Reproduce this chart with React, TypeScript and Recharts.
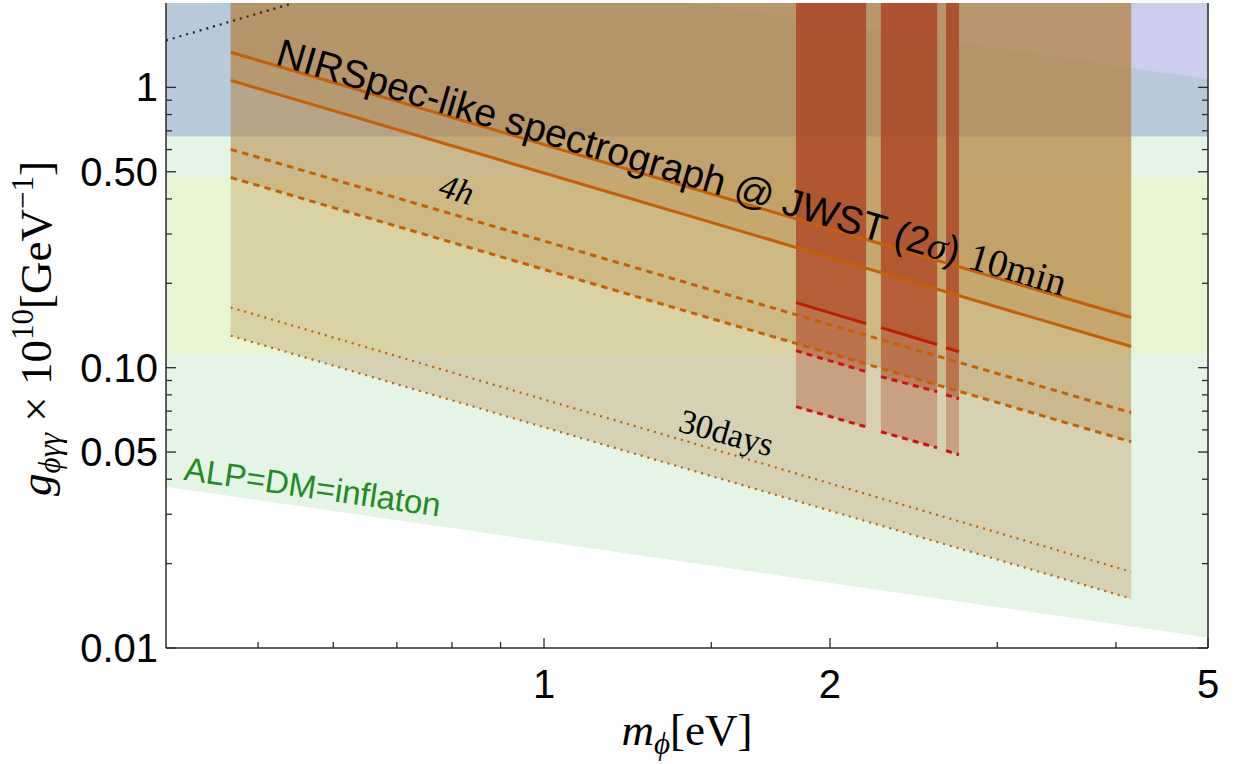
import React from 'react';
import { ComposedChart, Area, Line, XAxis, YAxis, ReferenceDot } from 'recharts';

// ---------- axes ----------
const X_DOMAIN: [number, number] = [0.4, 5];
const Y_DOMAIN: [number, number] = [0.01, 2];
const Y_TOP = 2;

const X_MAJOR = [1, 2, 5];
const X_MINOR = [0.5, 0.6, 0.7, 0.8, 0.9, 1.5, 3, 4];
const Y_MAJOR = [0.01, 0.05, 0.1, 0.5, 1];
const Y_MAJOR_LABELS = ['0.01', '0.05', '0.10', '0.50', '1'];
const Y_MINOR = [0.02, 0.03, 0.04, 0.06, 0.07, 0.08, 0.09, 0.2, 0.3, 0.4, 0.6, 0.7, 0.8, 0.9];

// ---------- background constraint regions ----------
const BG_M = [0.4, 5];
const INFLATON_LOWER = [0.0376, 0.0109];
const HB_LOWER = [0.111, 0.111];
const HB_UPPER = [0.477, 0.477];
const CAST_LOWER = [0.668, 0.668];
const VIOLET_M = [1.42, 5];
const VIOLET_LOWER = [2.0, 1.07];
const BLACK_DOT_M = [0.4, 0.545];
const BLACK_DOT_G = [1.47, 2.0];

// ---------- NIRSpec-like projections ----------
const NIR_M = [0.468, 4.15];
const G_10MIN_A = [1.334, 0.151];
const G_10MIN_B = [1.059, 0.119];
const G_4H_A = [0.601, 0.0691];
const G_4H_B = [0.477, 0.0544];
const G_30D_A = [0.164, 0.0187];
const G_30D_B = [0.13, 0.015];

// ---------- red windows ----------
const RED1_M = [1.842, 2.183];
const RED1_SOLID = [0.1706, 0.1436];
const RED1_DASH_A = [0.115, 0.0968];
const RED1_DASH_B = [0.0726, 0.0615];
const RED2_M = [2.263, 2.593];
const RED2_SOLID = [0.139, 0.121];
const RED2_DASH_A = [0.0929, 0.0821];
const RED2_DASH_B = [0.0591, 0.0518];
const RED3_M = [2.65, 2.734];
const RED3_SOLID = [0.1178, 0.114];
const RED3_DASH_A = [0.0801, 0.0775];
const RED3_DASH_B = [0.0506, 0.0489];

// ---------- styles ----------
const AX = '#2b2b2b';
const ORANGE = '#c46005';
const ORANGE_FILL = '#b4823a';
const RED_FILL = '#aa3214';
const RED_SOLID = '#be1e00';
const RED_DASH = '#c81414';
const SANS = '"Liberation Sans", Arial, Helvetica, sans-serif';
const SERIF = '"Liberation Serif", "Times New Roman", "DejaVu Serif", serif';

const band = (ms: number[], lo: number[], hi?: number[]) =>
  ms.map((m, i) => ({ m, r: [lo[i], hi ? hi[i] : Y_TOP] }));
const curve = (ms: number[], gs: number[]) => ms.map((m, i) => ({ m, g: gs[i] }));

const fillArea = (key: string, data: any[], color: string, opacity: number) => (
  <Area
    key={key}
    data={data}
    dataKey="r"
    type="linear"
    stroke="none"
    fill={color}
    fillOpacity={opacity}
    dot={false}
    activeDot={false}
    isAnimationActive={false}
  />
);

const line = (key: string, data: any[], color: string, width: number, dash?: string) => (
  <Line
    key={key}
    data={data}
    dataKey="g"
    type="linear"
    stroke={color}
    strokeWidth={width}
    strokeDasharray={dash}
    dot={false}
    activeDot={false}
    isAnimationActive={false}
  />
);

// ---------- ticks ----------
const BottomTick = (props: any) => {
  const { x, y, payload } = props;
  const v = payload.value;
  const major = X_MAJOR.includes(v);
  return (
    <g>
      <line x1={x} x2={x} y1={y} y2={y - (major ? 10 : 6)} stroke={AX} strokeWidth={1.3} />
      {major && (
        <text x={x} y={y + 50} textAnchor="middle" fontFamily={SANS} fontSize={40} fill="#000">
          {String(v)}
        </text>
      )}
    </g>
  );
};
const TopTick = (props: any) => {
  const { x, y, payload } = props;
  const major = X_MAJOR.includes(payload.value);
  return <line x1={x} x2={x} y1={y} y2={y + (major ? 10 : 6)} stroke={AX} strokeWidth={1.3} />;
};
const LeftTick = (props: any) => {
  const { x, y, payload } = props;
  const idx = Y_MAJOR.indexOf(payload.value);
  const major = idx >= 0;
  return (
    <g>
      <line x1={x} x2={x + (major ? 10 : 6)} y1={y} y2={y} stroke={AX} strokeWidth={1.3} />
      {major && (
        <text x={x - 8} y={y + 14} textAnchor="end" fontFamily={SANS} fontSize={40} fill="#000">
          {Y_MAJOR_LABELS[idx]}
        </text>
      )}
    </g>
  );
};
const RightTick = (props: any) => {
  const { x, y, payload } = props;
  const major = Y_MAJOR.includes(payload.value);
  return <line x1={x} x2={x - (major ? 10 : 6)} y1={y} y2={y} stroke={AX} strokeWidth={1.3} />;
};

// ---------- axis titles ----------
const XTitle = (props: any) => {
  const vb = props.viewBox || { x: 166, y: 648, width: 1042, height: 116 };
  return (
    <text x={vb.x + vb.width / 2} y={vb.y + 97} textAnchor="middle" fontFamily={SERIF} fontSize={45} fill="#000">
      <tspan fontStyle="italic">m</tspan>
      <tspan fontStyle="italic" fontSize={31} dy={9}>ϕ</tspan>
      <tspan dy={-9}>[eV]</tspan>
    </text>
  );
};
const YTitle = (props: any) => {
  const vb = props.viewBox || { x: 0, y: 3, width: 166, height: 645 };
  const cx = vb.x + 51;
  const cy = vb.y + vb.height / 2 + 3;
  return (
    <text transform={`translate(${cx},${cy}) rotate(-90)`} textAnchor="middle" fontFamily={SERIF} fontSize={45} fill="#000">
      <tspan fontStyle="italic">g</tspan>
      <tspan fontStyle="italic" fontSize={31} dy={9}>ϕγγ</tspan>
      <tspan dy={-9}>{' × 10'}</tspan>
      <tspan fontSize={31} dy={-18}>10</tspan>
      <tspan dy={18}>[GeV</tspan>
      <tspan fontSize={31} dy={-18}>−1</tspan>
      <tspan dy={18}>]</tspan>
    </text>
  );
};

// ---------- annotations ----------
const NirText = (p: any) => (
  <text transform={`translate(${p.cx},${p.cy}) rotate(16.4)`} fontFamily={SANS} fontSize={39} fill="#000">
    NIRSpec-like spectrograph @ JWST (2
    <tspan fontFamily={SERIF} fontStyle="italic">σ</tspan>
    {') '}
    <tspan fontFamily={SERIF}>10min</tspan>
  </text>
);
const FourH = (p: any) => (
  <text transform={`translate(${p.cx},${p.cy}) rotate(16.4)`} fontFamily={SERIF} fontStyle="italic" fontSize={34} fill="#000">
    4h
  </text>
);
const ThirtyDays = (p: any) => (
  <text transform={`translate(${p.cx},${p.cy}) rotate(15.5)`} fontFamily={SERIF} fontSize={34} fill="#000">
    30days
  </text>
);
const AlpText = (p: any) => (
  <text transform={`translate(${p.cx},${p.cy}) rotate(8.2)`} fontFamily={SANS} fontSize={33} fill="#228b22">
    ALP=DM=inflaton
  </text>
);

export default function App() {
  const redBars = [
    { id: 'r1', m: RED1_M, s: RED1_SOLID, a: RED1_DASH_A, b: RED1_DASH_B },
    { id: 'r2', m: RED2_M, s: RED2_SOLID, a: RED2_DASH_A, b: RED2_DASH_B },
    { id: 'r3', m: RED3_M, s: RED3_SOLID, a: RED3_DASH_A, b: RED3_DASH_B },
  ];
  return (
    <div style={{ position: 'absolute', left: 0, top: 0, width: 1240, height: 764, background: '#fff' }}>
      <ComposedChart width={1240} height={764} margin={{ top: 3, right: 31, bottom: 0, left: 0 }}>
        <XAxis
          xAxisId={0}
          dataKey="m"
          type="number"
          scale="log"
          domain={X_DOMAIN}
          allowDataOverflow
          ticks={[...X_MINOR, ...X_MAJOR].sort((a, b) => a - b)}
          interval={0}
          tickSize={0}
          tickMargin={0}
          tickLine={false}
          tick={<BottomTick />}
          axisLine={{ stroke: AX, strokeWidth: 1.5 }}
          height={116}
          label={<XTitle />}
        />
        <XAxis
          xAxisId="top"
          orientation="top"
          dataKey="m"
          type="number"
          scale="log"
          domain={X_DOMAIN}
          allowDataOverflow
          ticks={[...X_MINOR, ...X_MAJOR].sort((a, b) => a - b)}
          interval={0}
          tickSize={0}
          tickMargin={0}
          tickLine={false}
          tick={<TopTick />}
          axisLine={{ stroke: AX, strokeWidth: 1.5 }}
          height={0}
        />
        <YAxis
          yAxisId={0}
          type="number"
          scale="log"
          domain={Y_DOMAIN}
          allowDataOverflow
          ticks={[...Y_MINOR, ...Y_MAJOR].sort((a, b) => a - b)}
          interval={0}
          tickSize={0}
          tickMargin={0}
          tickLine={false}
          tick={<LeftTick />}
          axisLine={{ stroke: AX, strokeWidth: 1.5 }}
          width={166}
          label={<YTitle />}
        />
        <YAxis
          yAxisId="right"
          orientation="right"
          type="number"
          scale="log"
          domain={Y_DOMAIN}
          allowDataOverflow
          ticks={[...Y_MINOR, ...Y_MAJOR].sort((a, b) => a - b)}
          interval={0}
          tickSize={0}
          tickMargin={0}
          tickLine={false}
          tick={<RightTick />}
          axisLine={{ stroke: AX, strokeWidth: 1.5 }}
          width={1}
        />

        {/* background regions */}
        {fillArea('inflaton', band(BG_M, INFLATON_LOWER), '#e4f4e5', 1)}
        {fillArea('hb', band(BG_M, HB_LOWER, HB_UPPER), '#e8f5d2', 1)}
        {fillArea('cast', band(BG_M, CAST_LOWER), '#b8c9d9', 1)}
        {fillArea('violet', band(VIOLET_M, VIOLET_LOWER), '#cdcdee', 1)}

        {/* NIRSpec sensitivity fills */}
        {fillArea('f30', band(NIR_M, G_30D_B), ORANGE_FILL, 0.3)}
        {fillArea('f4h', band(NIR_M, G_4H_B), ORANGE_FILL, 0.3)}
        {fillArea('f10', band(NIR_M, G_10MIN_B), ORANGE_FILL, 0.3)}
        {fillArea('f10a', band(NIR_M, G_10MIN_A), ORANGE_FILL, 0.15)}

        {/* red windows */}
        {redBars.map((r) => [
          fillArea(r.id + 'fb', band(r.m, r.b), RED_FILL, 0.3),
          fillArea(r.id + 'fa', band(r.m, r.a), RED_FILL, 0.3),
          fillArea(r.id + 'fs', band(r.m, r.s), RED_FILL, 0.3),
        ])}

        {/* lines */}
        {line('l30a', curve(NIR_M, G_30D_A), ORANGE, 2.2, '2 5')}
        {line('l30b', curve(NIR_M, G_30D_B), ORANGE, 2.2, '2 5')}
        {line('l4a', curve(NIR_M, G_4H_A), ORANGE, 3, '6.5 5.2')}
        {line('l4b', curve(NIR_M, G_4H_B), ORANGE, 3, '6.5 5.2')}
        {line('l10a', curve(NIR_M, G_10MIN_A), ORANGE, 3)}
        {line('l10b', curve(NIR_M, G_10MIN_B), ORANGE, 3)}
        {redBars.map((r) => [
          line(r.id + 'ls', curve(r.m, r.s), RED_SOLID, 3),
          line(r.id + 'la', curve(r.m, r.a), RED_DASH, 3, '6 5'),
          line(r.id + 'lb', curve(r.m, r.b), RED_DASH, 3, '6 5'),
        ])}
        {line('black', curve(BLACK_DOT_M, BLACK_DOT_G), '#222', 2.2, '2 5')}

        {/* annotations */}
        <ReferenceDot x={0.52} y={1.21} r={0} shape={NirText} />
        <ReferenceDot x={0.772} y={0.411} r={0} shape={FourH} />
        <ReferenceDot x={1.38} y={0.0595} r={0} shape={ThirtyDays} />
        <ReferenceDot x={0.4168} y={0.0398} r={0} shape={AlpText} />
      </ComposedChart>
    </div>
  );
}
